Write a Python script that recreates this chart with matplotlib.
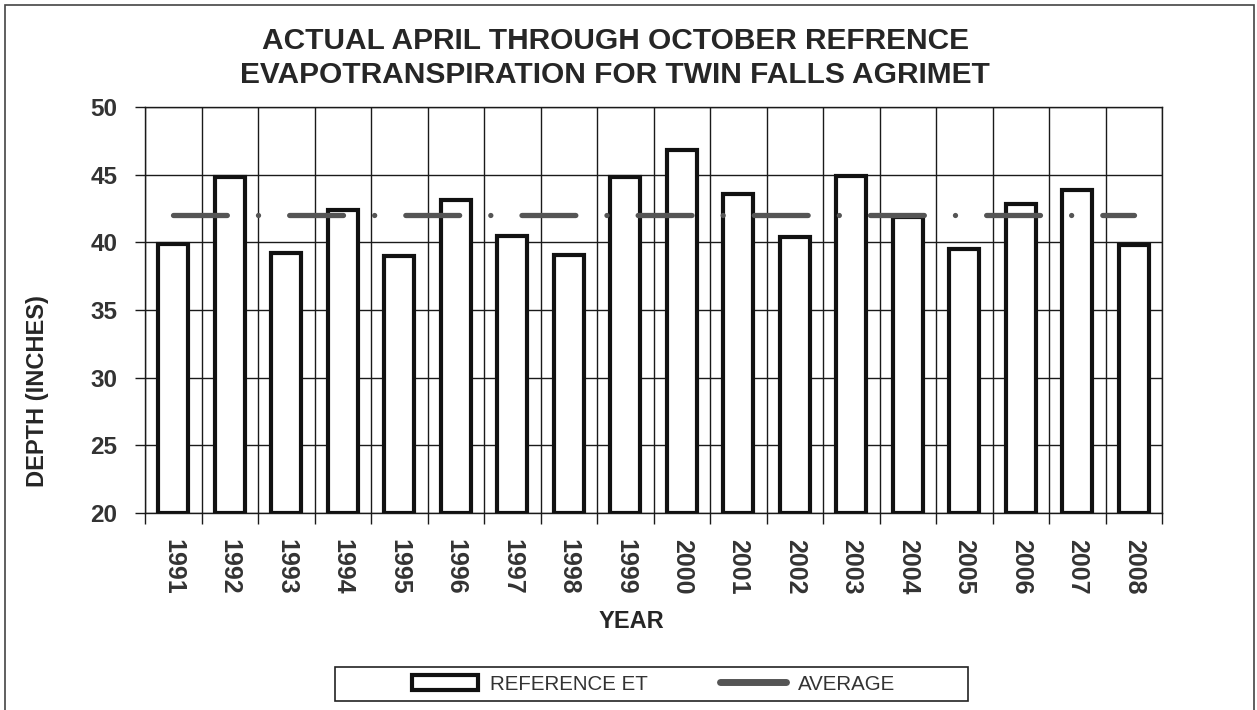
import matplotlib
matplotlib.use("Agg")
import matplotlib.pyplot as plt
import numpy as np
from matplotlib.lines import Line2D
from matplotlib.patches import Patch, Rectangle

plt.rcParams['font.family'] = ['Liberation Sans', 'DejaVu Sans']

years = ["1991", "1992", "1993", "1994", "1995", "1996", "1997", "1998", "1999",
         "2000", "2001", "2002", "2003", "2004", "2005", "2006", "2007", "2008"]
ref_et = [39.9, 44.8, 39.2, 42.4, 39.0, 43.1, 40.5, 39.1, 44.8,
          46.8, 43.6, 40.4, 44.9, 41.9, 39.5, 42.8, 43.9, 39.8]
y_ticks = [20, 25, 30, 35, 40, 45, 50]

W, H = 1257, 710
fig = plt.figure(figsize=(W/100, H/100), dpi=100)
fig.patch.set_facecolor('white')

# axes box in pixel coords
x0, x1, ytop, ybot = 145, 1162, 107, 513
ax = fig.add_axes([x0/W, 1-ybot/H, (x1-x0)/W, (ybot-ytop)/H])

x = np.arange(len(years))
vals = np.array(ref_et)
avg = np.full(len(years), vals.mean())
base = y_ticks[0]

# gridlines
for yv in y_ticks:
    ax.axhline(yv, color='#1a1a1a', lw=1.0, zorder=1)
for xb in np.arange(len(years)+1) - 0.5:
    ax.axvline(xb, color='#1a1a1a', lw=1.0, zorder=1)

ax.bar(x, vals - base, bottom=base, width=0.53, facecolor='white',
       edgecolor='#111111', lw=3.0, zorder=3, joinstyle='miter')

# long dash - dot average line
ax.plot(x, avg, color='#555555', lw=3.8, ls=(0, (10.2, 5.9, 0.01, 5.9)),
        dash_capstyle='round', zorder=4)

ax.set_xlim(-0.5, len(years)-0.5)
ax.set_ylim(y_ticks[0], y_ticks[-1])
ax.set_yticks(y_ticks)
ax.set_yticklabels([str(v) for v in y_ticks], fontsize=17.5, fontweight='bold', color='#333333')
ax.set_xticks(x)
ax.set_xticklabels(years, rotation=-90, fontsize=18, fontweight='bold', color='#333333')
ax.set_xticks(np.arange(len(years)+1) - 0.5, minor=True)
ax.tick_params(axis='x', which='major', length=0, pad=19)
ax.tick_params(axis='x', which='minor', length=8, width=1.0, color='#1a1a1a')
ax.tick_params(axis='y', length=7, width=1.0, color='#1a1a1a', pad=13)
for s in ax.spines.values():
    s.set_color('#1a1a1a')
    s.set_linewidth(1.0)

# titles and axis labels
fig.text(615/W, 1-58/H, "ACTUAL APRIL THROUGH OCTOBER REFRENCE\nEVAPOTRANSPIRATION FOR TWIN FALLS AGRIMET",
         ha='center', va='center', fontsize=21.5, fontweight='bold', color='#262626', linespacing=1.25)
fig.text(38/W, 1-391/H, "DEPTH (INCHES)", rotation=90, ha='center', va='center',
         fontsize=17, fontweight='bold', color='#262626')
fig.text(631/W, 1-622/H, "YEAR", ha='center', va='center',
         fontsize=17, fontweight='bold', color='#262626')

# legend with its own box
fig.patches.append(Rectangle((335/W, 1-701/H), (968-335)/W, (701-667)/H,
                             transform=fig.transFigure, facecolor='white',
                             edgecolor='#222222', lw=1.2, zorder=0))
handles = [Patch(facecolor='white', edgecolor='#111111', lw=3.0),
           Line2D([], [], color='#555555', lw=5, solid_capstyle='round')]
fig.legend(handles, ["REFERENCE ET", "AVERAGE"], loc='center', frameon=False,
           bbox_to_anchor=(654/W, 1-684/H), ncol=2, fontsize=14.8,
           handlelength=3.2, handletextpad=0.6, columnspacing=3.5,
           labelcolor='#333333')

# outer border
fig.patches.append(Rectangle((5/W, -0.02), (1254-5)/W, 1.02-5/H,
                             transform=fig.transFigure, fill=False,
                             edgecolor='#444444', lw=1.2))

fig.savefig("out.png", dpi=100, facecolor='white')
